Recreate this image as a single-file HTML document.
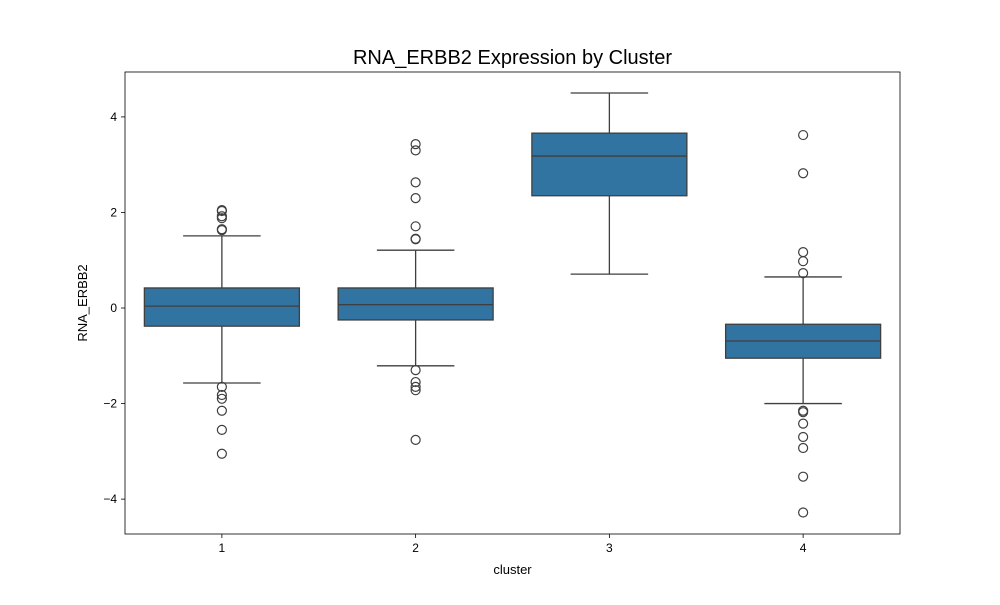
<!DOCTYPE html>
<html><head><meta charset="utf-8"><style>
body{margin:0;background:#fff;font-family:"Liberation Sans",sans-serif;}
</style></head><body>
<svg id="chart" width="1000" height="600" xmlns="http://www.w3.org/2000/svg"></svg>
<script>
const categories = ["1","2","3","4"];
const q1 = [-0.38, -0.25, 2.35, -1.05];
const medians = [0.04, 0.07, 3.18, -0.69];
const q3 = [0.42, 0.42, 3.66, -0.34];
const whiskerLow = [-1.57, -1.21, 0.71, -2.0];
const whiskerHigh = [1.51, 1.21, 4.5, 0.65];
const outliers1 = [2.05, 2.03, 1.92, 1.88, 1.65, 1.63, -1.65, -1.82, -1.9, -2.15, -2.55, -3.05];
const outliers2 = [3.43, 3.3, 2.63, 2.3, 1.71, 1.45, 1.44, -1.3, -1.55, -1.65, -1.72, -2.76];
const outliers3 = [];
const outliers4 = [3.62, 2.82, 1.17, 0.98, 0.73, -2.15, -2.18, -2.42, -2.7, -2.93, -3.53, -4.28];
const yTicks = [-4, -2, 0, 2, 4];

const outliers = [outliers1, outliers2, outliers3, outliers4];
const L=125, R=900, T=72, B=534;
const yMin=-4.73, yMax=4.94;
const y = v => B - (v - yMin) / (yMax - yMin) * (B - T);
const step = (R - L) / categories.length;
const x = i => L + step * (i + 0.5);
const svg = document.getElementById('chart');
const NS = "http://www.w3.org/2000/svg";
function mk(tag, attrs, parent){const e=document.createElementNS(NS,tag);for(const k in attrs)e.setAttribute(k,attrs[k]);(parent||svg).appendChild(e);return e;}

const title = mk('text',{x:(L+R)/2,y:64,'text-anchor':'middle','font-size':20,fill:'#000'});
title.textContent='RNA_ERBB2 Expression by Cluster';



const bw = step*0.8;
categories.forEach((c,i)=>{
  const g = mk('g',{});
  
  
  const cx=x(i), st={stroke:'#3f3f3f','stroke-width':1.3,fill:'none'};
  mk('line',Object.assign({x1:cx,x2:cx,y1:y(q3[i]),y2:y(whiskerHigh[i])},st),g);
  mk('line',Object.assign({x1:cx,x2:cx,y1:y(q1[i]),y2:y(whiskerLow[i])},st),g);
  mk('line',Object.assign({x1:cx-bw/4,x2:cx+bw/4,y1:y(whiskerHigh[i]),y2:y(whiskerHigh[i])},st),g);
  mk('line',Object.assign({x1:cx-bw/4,x2:cx+bw/4,y1:y(whiskerLow[i]),y2:y(whiskerLow[i])},st),g);
  mk('rect',{x:cx-bw/2,y:y(q3[i]),width:bw,height:y(q1[i])-y(q3[i]),fill:'#3274a1',stroke:'#3f3f3f','stroke-width':1.3},g);
  mk('line',Object.assign({x1:cx-bw/2,x2:cx+bw/2,y1:y(medians[i]),y2:y(medians[i])},st),g);
  outliers[i].forEach(v=>{
    const o=mk('circle',{cx:cx,cy:y(v),r:4.5,fill:'none',stroke:'#3f3f3f','stroke-width':1.2},g);
    
    
  });
  mk('line',{x1:cx,x2:cx,y1:B,y2:B+4,stroke:'#000','stroke-width':0.8});
  const t=mk('text',{x:cx,y:B+18,'text-anchor':'middle','font-size':12,fill:'#000'});
  t.textContent=c;
  
  
});
yTicks.forEach(v=>{
  mk('line',{x1:L-4,x2:L,y1:y(v),y2:y(v),stroke:'#000','stroke-width':0.8});
  const t=mk('text',{x:L-8,y:y(v)+4,'text-anchor':'end','font-size':12,fill:'#000'});
  t.textContent=v<0?'\u2212'+(-v):String(v);
  
  
});
const frame=mk('rect',{x:L,y:T,width:R-L,height:B-T,fill:'none',stroke:'#000','stroke-width':0.8});


const xl=mk('text',{x:(L+R)/2,y:574,'text-anchor':'middle','font-size':13,fill:'#000'});
xl.textContent='cluster';


const yl=mk('text',{x:87,y:(T+B)/2,'text-anchor':'middle','font-size':13,fill:'#000',transform:'rotate(-90 87 '+((T+B)/2)+')'});
yl.textContent='RNA_ERBB2';


</script>
</body></html>
